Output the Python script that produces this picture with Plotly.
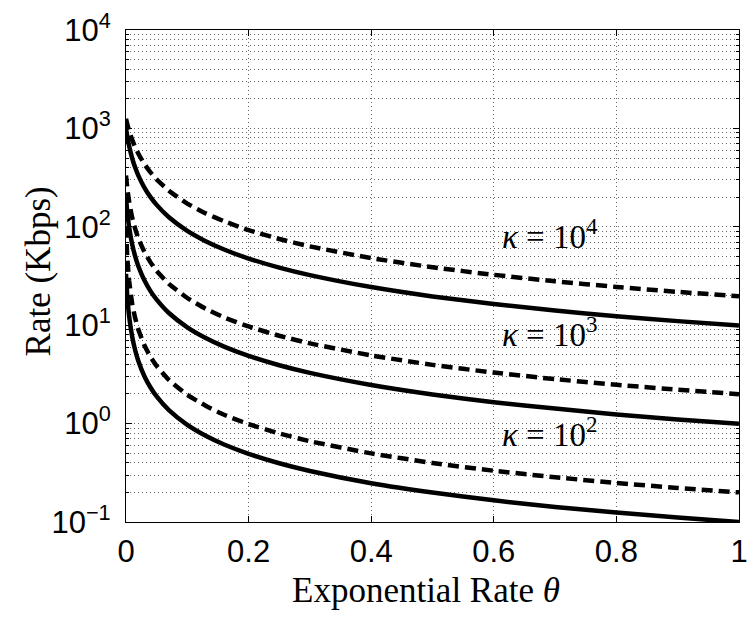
import plotly.graph_objects as go

# ---- data ----
theta = [0.0, 0.002, 0.005, 0.01, 0.015, 0.02, 0.03, 0.04, 0.05, 0.07, 0.1,
         0.13, 0.16, 0.2, 0.25, 0.3, 0.4, 0.5, 0.6, 0.7, 0.8, 0.9, 1.0]

solid_k4 = [1000, 833, 667, 500, 400, 333, 250, 200, 167, 125, 90.9,
            71.4, 58.8, 47.6, 38.5, 32.3, 24.4, 19.6, 16.4, 14.1, 12.3, 11.0, 9.9]
dashed_k4 = [1250, 1111, 952, 769, 645, 556, 435, 357, 303, 233, 172,
             137, 114, 92.6, 75.2, 63.3, 48.1, 38.8, 32.5, 27.9, 24.5, 21.8, 19.7]
solid_k3 = [200, 143, 100, 66.7, 50, 40, 28.6, 22.2, 18.2, 13.3, 9.52,
            7.41, 6.06, 4.88, 3.92, 3.28, 2.47, 1.98, 1.65, 1.42, 1.24, 1.10, 0.995]
dashed_k3 = [333, 250, 182, 125, 95.2, 76.9, 55.6, 43.5, 35.7, 26.3, 18.9,
             14.7, 12.0, 9.71, 7.81, 6.54, 4.93, 3.95, 3.30, 2.83, 2.48, 2.21, 1.99]
solid_k2 = [33.3, 20, 12.5, 7.69, 5.56, 4.35, 3.03, 2.33, 1.89, 1.37, 0.971,
            0.752, 0.613, 0.493, 0.395, 0.330, 0.248, 0.199, 0.166, 0.142, 0.125,
            0.111, 0.0997]
dashed_k2 = [100, 50, 28.6, 16.7, 11.8, 9.09, 6.25, 4.76, 3.85, 2.78, 1.96,
             1.52, 1.23, 0.99, 0.794, 0.662, 0.498, 0.398, 0.332, 0.285, 0.249,
             0.222, 0.2]

x_tickvals = [0, 0.2, 0.4, 0.6, 0.8, 1]
x_ticktext = ["0", "0.2", "0.4", "0.6", "0.8", "1"]
y_tickvals = [0.1, 1, 10, 100, 1000, 10000]
y_ticktext = ["10<sup>\u22121</sup>", "10<sup>0</sup>", "10<sup>1</sup>",
              "10<sup>2</sup>", "10<sup>3</sup>", "10<sup>4</sup>"]
kappa_labels = ["<i>\u03ba</i> = 10<sup>4</sup>",
                "<i>\u03ba</i> = 10<sup>3</sup>",
                "<i>\u03ba</i> = 10<sup>2</sup>"]

# ---- figure ----
fig = go.Figure()
LW = 4.5
DASH = "11px,6px"
series = [(solid_k4, "solid"), (dashed_k4, DASH),
          (solid_k3, "solid"), (dashed_k3, DASH),
          (solid_k2, "solid"), (dashed_k2, DASH)]
for ys, dash in series:
    fig.add_trace(go.Scatter(x=theta, y=ys, mode="lines",
                             line=dict(color="black", width=LW, dash=dash,
                                       shape="spline", smoothing=0.5),
                             showlegend=False, hoverinfo="skip", cliponaxis=True))

minor_vals = [m * d for d in [0.1, 1, 10, 100, 1000] for m in range(2, 10)]

grid = dict(gridcolor="#666", gridwidth=1, griddash="1px,3px")
tickfont = dict(family="Liberation Sans", size=31, color="black")

fig.update_xaxes(range=[0, 1], tickmode="array", tickvals=x_tickvals,
                 ticktext=x_ticktext, showline=True, linecolor="black",
                 linewidth=1.2, mirror="allticks", ticks="inside", ticklen=6,
                 tickcolor="black", showgrid=True, zeroline=False,
                 tickfont=tickfont, ticklabelstandoff=2,
                 ticklabeloverflow="allow", **grid)
fig.update_yaxes(type="log", range=[-1, 4], tickmode="array",
                 tickvals=y_tickvals, ticktext=y_ticktext, showline=True,
                 linecolor="black", linewidth=1.2, mirror="allticks",
                 ticks="inside", ticklen=6, tickcolor="black", showgrid=True,
                 zeroline=False, tickfont=tickfont, ticklabelstandoff=8,
                 ticklabeloverflow="allow",
                 minor=dict(tickmode="array", tickvals=minor_vals, ticks="inside",
                            ticklen=3, tickcolor="black", showgrid=True, **grid),
                 **grid)

serif = dict(family="Liberation Serif", size=35, color="black")
annotations = [
    dict(text="Exponential Rate <i>\u03b8</i>", xref="paper", yref="paper",
         x=0.49, y=-0.140, xanchor="center", yanchor="middle",
         showarrow=False, font=serif),
    dict(text="Rate (Kbps)", xref="paper", yref="paper", x=-0.143, y=0.51,
         xanchor="center", yanchor="middle", textangle=-90,
         showarrow=False, font=serif),
]
kappa_y = [1.93, 0.93, -0.09]
for lbl, ky in zip(kappa_labels, kappa_y):
    annotations.append(dict(text=lbl, xref="x", yref="y", x=0.61, y=ky,
                            xanchor="left", yanchor="middle", showarrow=False,
                            font=dict(family="Liberation Serif", size=33,
                                      color="black")))

fig.update_layout(width=754, height=618,
                  margin=dict(l=126, r=6, t=30, b=96),
                  paper_bgcolor="white", plot_bgcolor="white",
                  annotations=annotations)

fig.write_html("out.html")
